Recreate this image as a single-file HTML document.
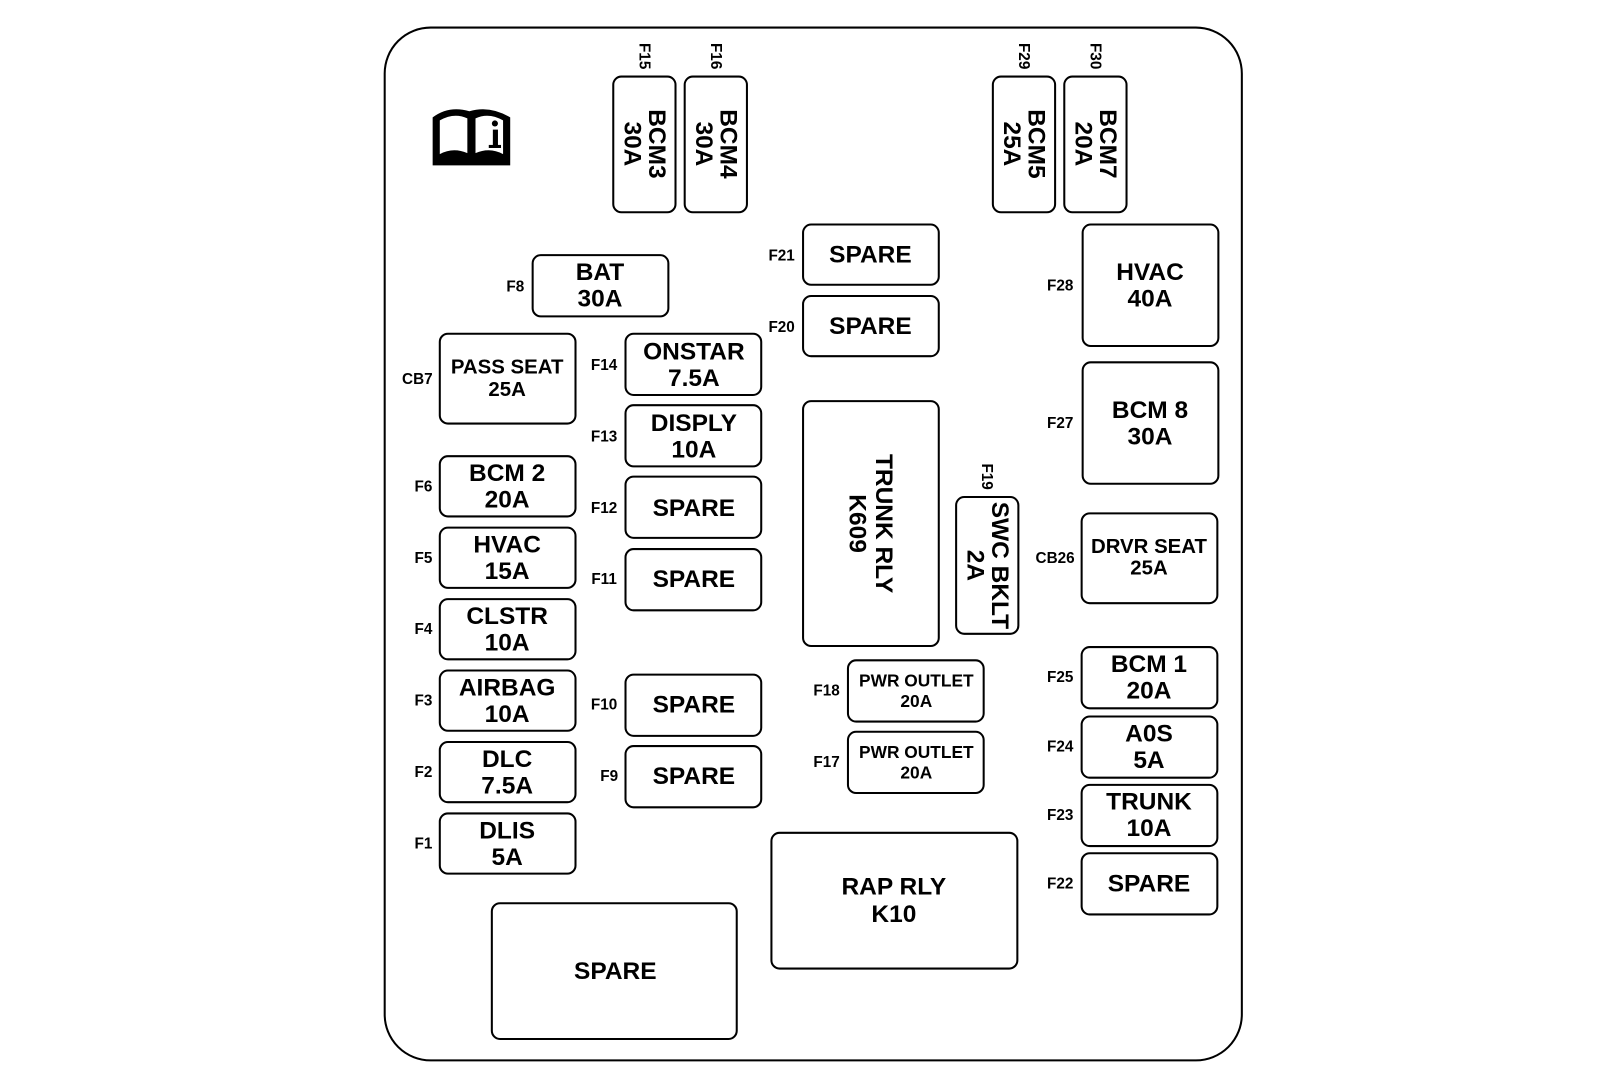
<!DOCTYPE html>
<html><head><meta charset="utf-8"><style>
html,body{margin:0;padding:0;background:#fff;}
svg{display:block}
text{font-family:"Liberation Sans",Arial,sans-serif;font-weight:bold;fill:#000;text-anchor:middle;dominant-baseline:central}
.b{font-size:24px}
.s{font-size:20px}
.xs{font-size:17px}
.l{font-size:15px}
rect{fill:#fff;stroke:#000;stroke-width:2}
</style></head><body>
<svg width="1600" height="1090" viewBox="0 0 1568 1068" preserveAspectRatio="none" xmlns="http://www.w3.org/2000/svg">
<rect x="377" y="27" width="840" height="1012" rx="45" ry="45" stroke-width="2.5"/>
<!-- book icon -->
<g>
<path d="M424 162 L424 115 Q440 103 460 109 Q480 103 500 115 L500 162 Z" fill="#000"/>
<path d="M431 151 L431 118 Q445 110 458 116 L458 150 Q444 144 431 151 Z" fill="#fff"/>
<path d="M466 116 Q479 110 493 118 L493 151 Q480 144 466 150 Z" fill="#fff"/>
<circle cx="485" cy="121" r="3" fill="#000"/>
<rect x="483" y="127" width="5" height="17" style="fill:#000;stroke:none"/>
<rect x="479" y="142" width="12" height="3" style="fill:#000;stroke:none"/>
</g>

<!-- top vertical fuses -->
<g>
<rect x="601" y="75" width="61" height="133" rx="8"/>
<g transform="translate(631.5,141) rotate(90)"><text class="b" y="-12">BCM3</text><text class="b" y="12">30A</text></g>
<text class="l" transform="translate(631,55) rotate(90)">F15</text>
<rect x="671" y="75" width="61" height="133" rx="8"/>
<g transform="translate(701.5,141) rotate(90)"><text class="b" y="-12">BCM4</text><text class="b" y="12">30A</text></g>
<text class="l" transform="translate(701,55) rotate(90)">F16</text>
<rect x="973" y="75" width="61" height="133" rx="8"/>
<g transform="translate(1003.5,141) rotate(90)"><text class="b" y="-12">BCM5</text><text class="b" y="12">25A</text></g>
<text class="l" transform="translate(1003,55) rotate(90)">F29</text>
<rect x="1043" y="75" width="61" height="133" rx="8"/>
<g transform="translate(1073.5,141) rotate(90)"><text class="b" y="-12">BCM7</text><text class="b" y="12">20A</text></g>
<text class="l" transform="translate(1073,55) rotate(90)">F30</text>
</g>

<!-- BAT -->
<rect x="522" y="250" width="133" height="60" rx="8"/>
<text class="b" x="588" y="267">BAT</text><text class="b" x="588" y="293">30A</text>
<text class="l" x="505" y="281">F8</text>

<!-- spares F21 F20 -->
<rect x="787" y="220" width="133" height="59" rx="8"/><text class="b" x="853" y="250">SPARE</text><text class="l" x="766" y="251">F21</text>
<rect x="787" y="290" width="133" height="59" rx="8"/><text class="b" x="853" y="320">SPARE</text><text class="l" x="766" y="321">F20</text>

<!-- right column -->
<rect x="1061" y="220" width="133" height="119" rx="8"/><text class="b" x="1127" y="267">HVAC</text><text class="b" x="1127" y="293">40A</text><text class="l" x="1039" y="280">F28</text>
<rect x="1061" y="355" width="133" height="119" rx="8"/><text class="b" x="1127" y="402">BCM 8</text><text class="b" x="1127" y="428">30A</text><text class="l" x="1039" y="415">F27</text>
<rect x="1060" y="503" width="133" height="88" rx="8"/><text class="s" x="1126" y="536">DRVR SEAT</text><text class="s" x="1126" y="557">25A</text><text class="l" x="1034" y="547">CB26</text>
<rect x="1060" y="634" width="133" height="60" rx="8"/><text class="b" x="1126" y="651">BCM 1</text><text class="b" x="1126" y="677">20A</text><text class="l" x="1039" y="664">F25</text>
<rect x="1060" y="702" width="133" height="60" rx="8"/><text class="b" x="1126" y="719">A0S</text><text class="b" x="1126" y="745">5A</text><text class="l" x="1039" y="732">F24</text>
<rect x="1060" y="769" width="133" height="60" rx="8"/><text class="b" x="1126" y="786">TRUNK</text><text class="b" x="1126" y="812">10A</text><text class="l" x="1039" y="799">F23</text>
<rect x="1060" y="836" width="133" height="60" rx="8"/><text class="b" x="1126" y="866">SPARE</text><text class="l" x="1039" y="866">F22</text>

<!-- left column -->
<rect x="431" y="327" width="133" height="88" rx="8"/><text class="s" x="497" y="360">PASS SEAT</text><text class="s" x="497" y="382">25A</text><text class="l" x="409" y="372">CB7</text>
<rect x="431" y="447" width="133" height="59" rx="8"/><text class="b" x="497" y="464">BCM 2</text><text class="b" x="497" y="490">20A</text><text class="l" x="415" y="477">F6</text>
<rect x="431" y="517" width="133" height="59" rx="8"/><text class="b" x="497" y="534">HVAC</text><text class="b" x="497" y="560">15A</text><text class="l" x="415" y="547">F5</text>
<rect x="431" y="587" width="133" height="59" rx="8"/><text class="b" x="497" y="604">CLSTR</text><text class="b" x="497" y="630">10A</text><text class="l" x="415" y="617">F4</text>
<rect x="431" y="657" width="133" height="59" rx="8"/><text class="b" x="497" y="674">AIRBAG</text><text class="b" x="497" y="700">10A</text><text class="l" x="415" y="687">F3</text>
<rect x="431" y="727" width="133" height="59" rx="8"/><text class="b" x="497" y="744">DLC</text><text class="b" x="497" y="770">7.5A</text><text class="l" x="415" y="757">F2</text>
<rect x="431" y="797" width="133" height="59" rx="8"/><text class="b" x="497" y="814">DLIS</text><text class="b" x="497" y="840">5A</text><text class="l" x="415" y="827">F1</text>

<!-- middle column -->
<rect x="613" y="327" width="133" height="60" rx="8"/><text class="b" x="680" y="345">ONSTAR</text><text class="b" x="680" y="371">7.5A</text><text class="l" x="592" y="358">F14</text>
<rect x="613" y="397" width="133" height="60" rx="8"/><text class="b" x="680" y="415">DISPLY</text><text class="b" x="680" y="441">10A</text><text class="l" x="592" y="428">F13</text>
<rect x="613" y="467" width="133" height="60" rx="8"/><text class="b" x="680" y="498">SPARE</text><text class="l" x="592" y="498">F12</text>
<rect x="613" y="538" width="133" height="60" rx="8"/><text class="b" x="680" y="568">SPARE</text><text class="l" x="592" y="568">F11</text>
<rect x="613" y="661" width="133" height="60" rx="8"/><text class="b" x="680" y="691">SPARE</text><text class="l" x="592" y="691">F10</text>
<rect x="613" y="731" width="133" height="60" rx="8"/><text class="b" x="680" y="761">SPARE</text><text class="l" x="597" y="761">F9</text>

<!-- trunk relay -->
<rect x="787" y="393" width="133" height="240" rx="8"/>
<g transform="translate(853,513) rotate(90)"><text class="b" y="-13">TRUNK RLY</text><text class="b" y="13">K609</text></g>
<rect x="937" y="487" width="61" height="134" rx="8"/>
<g transform="translate(967.5,554) rotate(90)"><text class="b" y="-12">SWC BKLT</text><text class="b" y="12">2A</text></g>
<text class="l" transform="translate(967,467) rotate(90)">F19</text>

<!-- PWR outlets -->
<rect x="831" y="647" width="133" height="60" rx="8"/><text class="xs" x="898" y="667">PWR OUTLET</text><text class="xs" x="898" y="687">20A</text><text class="l" x="810" y="677">F18</text>
<rect x="831" y="717" width="133" height="60" rx="8"/><text class="xs" x="898" y="737">PWR OUTLET</text><text class="xs" x="898" y="757">20A</text><text class="l" x="810" y="747">F17</text>

<!-- big -->
<rect x="756" y="816" width="241" height="133" rx="8"/><text class="b" x="876" y="869">RAP RLY</text><text class="b" x="876" y="896">K10</text>
<rect x="482" y="885" width="240" height="133" rx="8"/><text class="b" x="603" y="952">SPARE</text>
</svg>
</body></html>
